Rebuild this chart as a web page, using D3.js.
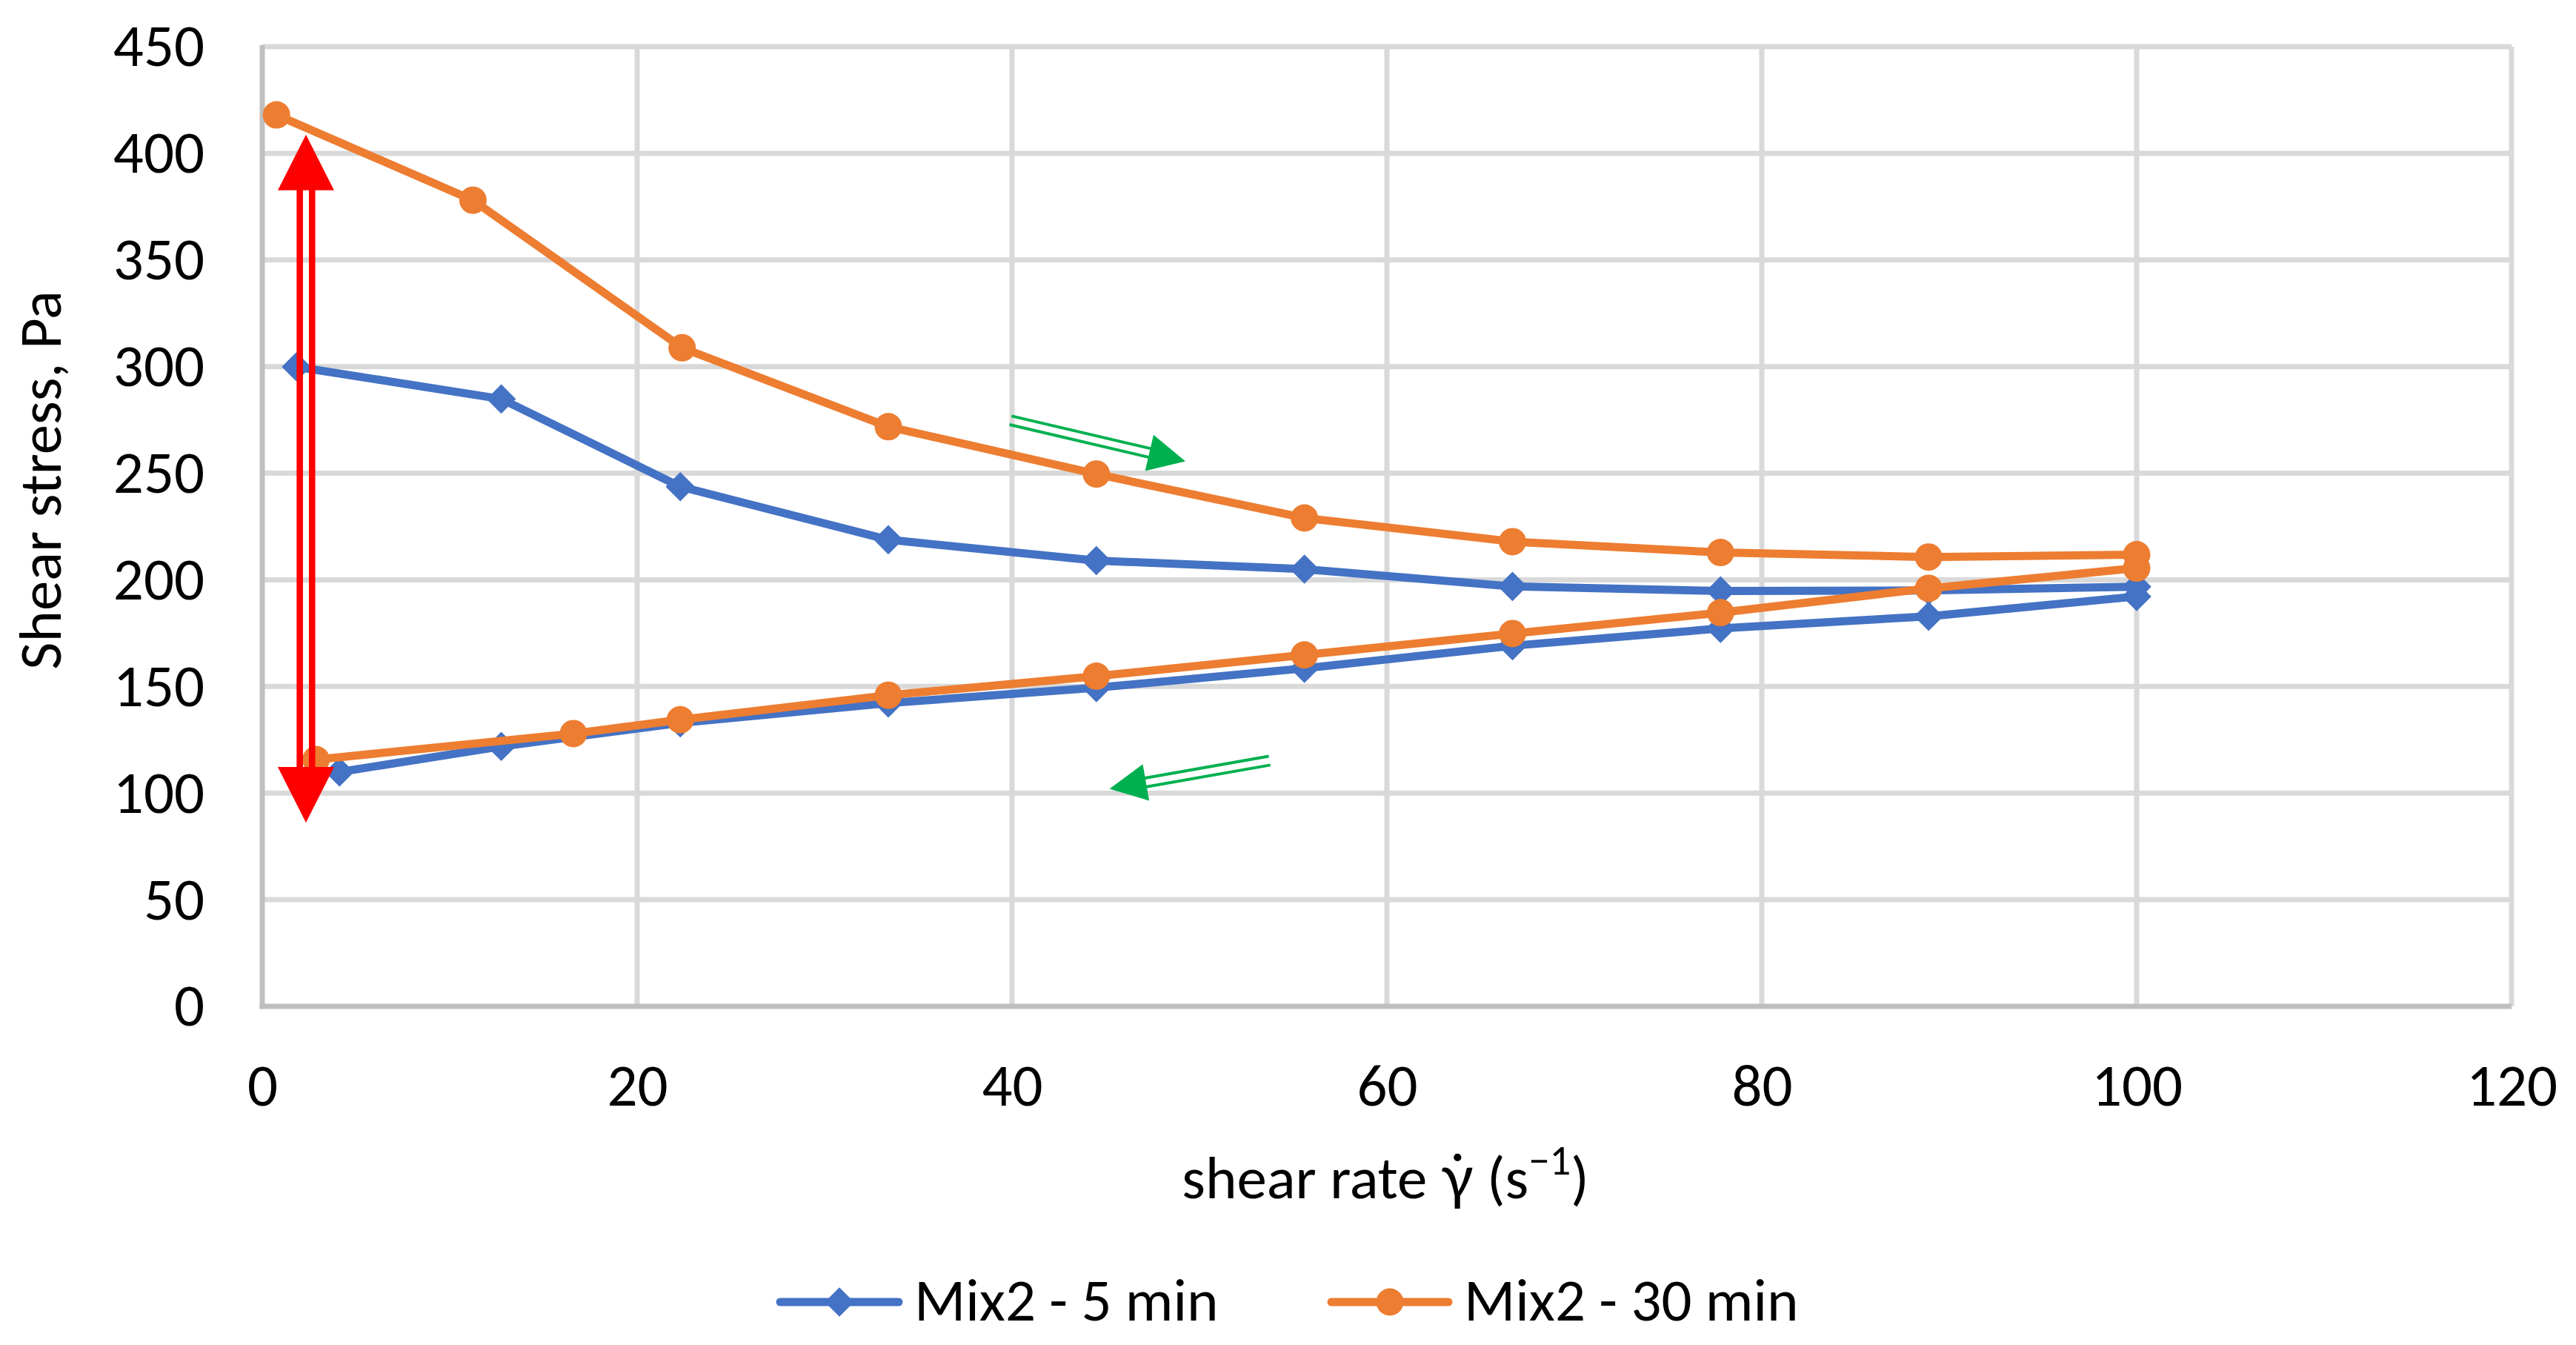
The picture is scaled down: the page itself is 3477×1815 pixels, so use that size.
<!DOCTYPE html>
<html>
<head>
<meta charset="utf-8">
<script src="https://cdn.jsdelivr.net/npm/d3@7"></script>
<style>
  html, body { margin: 0; padding: 0; background: #ffffff; }
  svg { display: block; }
  text { font-family: Carlito, Lato, "Noto Sans", sans-serif; fill: #000; }
</style>
</head>
<body>
<svg id="chart" width="3477" height="1815"></svg>
<script>
// ---------- data ----------
const seriesNames = ["Mix2 - 5 min", "Mix2 - 30 min"];
const shearRate5 = [1.82, 12.75, 22.3, 33.4, 44.5, 55.6, 66.7, 77.8, 88.9, 100,
                    100, 88.9, 77.8, 66.7, 55.6, 44.5, 33.4, 22.3, 12.75, 4.12];
const stress5    = [299.9, 284.8, 243.7, 218.8, 209.0, 205.0, 196.9, 194.8, 195.0, 196.8,
                    192.2, 182.9, 177.2, 169.1, 158.5, 149.4, 142.2, 132.9, 121.9, 109.9];
const shearRate30 = [0.76, 11.24, 22.4, 33.4, 44.5, 55.6, 66.7, 77.8, 88.9, 100,
                     100, 88.9, 77.8, 66.7, 55.6, 44.5, 33.4, 22.3, 16.6, 2.87];
const stress30    = [418.0, 378.0, 308.8, 271.8, 249.6, 229.0, 217.9, 212.8, 210.7, 211.8,
                     205.5, 196.0, 184.6, 174.8, 164.8, 154.8, 145.9, 134.4, 127.9, 115.7];
const xTicks = [0, 20, 40, 60, 80, 100, 120];
const yTicks = [0, 50, 100, 150, 200, 250, 300, 350, 400, 450];

// ---------- layout ----------
(function () {
const W = 3477, H = 1815;
const pL = 354, pR = 3390, pT = 63, pB = 1358;
const FS = 81;
const svg = d3.select("#chart");
svg.append("rect").attr("width", W).attr("height", H).attr("fill", "#fff");

const x = d3.scaleLinear().domain([0, 120]).range([pL, pR]);
const y = d3.scaleLinear().domain([0, 450]).range([pB, pT]);

// gridlines
const grid = svg.append("g");
grid.selectAll("line.h").data(yTicks.filter(d => d > 0)).join("line").attr("class", "h")
  .attr("x1", pL).attr("x2", pR)
  .attr("y1", d => y(d)).attr("y2", d => y(d))
  .attr("stroke", "#d9d9d9").attr("stroke-width", 7);
grid.selectAll("line.v").data(xTicks.filter(d => d > 0)).join("line").attr("class", "v")
  .attr("y1", pT).attr("y2", pB)
  .attr("x1", d => x(d)).attr("x2", d => x(d))
  .attr("stroke", "#d9d9d9").attr("stroke-width", 7);

// axes lines
svg.append("line").attr("x1", pL).attr("x2", pL).attr("y1", pT - 2).attr("y2", pB + 3.5)
  .attr("stroke", "#bfbfbf").attr("stroke-width", 7);
svg.append("line").attr("x1", pL - 3.5).attr("x2", pR).attr("y1", pB).attr("y2", pB)
  .attr("stroke", "#bfbfbf").attr("stroke-width", 7);

// tick labels via d3 axes (lines hidden)
const yAxis = svg.append("g").attr("transform", `translate(${pL},0)`)
  .call(d3.axisLeft(y).tickValues(yTicks).tickSize(0).tickPadding(78));
const xAxis = svg.append("g").attr("transform", `translate(0,${pB})`)
  .call(d3.axisBottom(x).tickValues(xTicks).tickSize(0).tickPadding(76));
[yAxis, xAxis].forEach(a => {
  a.select(".domain").remove();
  a.selectAll("text").attr("font-size", FS).attr("font-family", "Carlito, Lato, sans-serif").attr("fill", "#000");
});

// axis titles
svg.append("text")
  .attr("transform", `translate(82,648) rotate(-90)`)
  .attr("text-anchor", "middle").attr("font-size", FS)
  .text("Shear stress, Pa");
const xt = svg.append("text")
  .attr("x", 1870).attr("y", 1617).attr("text-anchor", "middle").attr("font-size", FS);
xt.append("tspan").text("shear rate \u03B3\u0307 (s");
xt.append("tspan").attr("dy", -32).attr("font-size", FS * 0.7).text("\u22121");
xt.append("tspan").attr("dy", 32).text(")");

// ---------- series ----------
const colors = ["#4472c4", "#ed7d31"];
const data5 = shearRate5.map((v, i) => [v, stress5[i]]);
const data30 = shearRate30.map((v, i) => [v, stress30[i]]);
const line = d3.line().x(d => x(d[0])).y(d => y(d[1]));
const diamond = d3.symbol().type(d3.symbolSquare).size(28 * 28);

function drawSeries(data, color, marker) {
  const g = svg.append("g");
  g.append("path").attr("d", line(data)).attr("fill", "none")
    .attr("stroke", color).attr("stroke-width", 11)
    .attr("stroke-linejoin", "round").attr("stroke-linecap", "round");
  if (marker === "diamond") {
    g.selectAll("path.m").data(data).join("path").attr("class", "m")
      .attr("d", diamond)
      .attr("transform", d => `translate(${x(d[0])},${y(d[1])}) rotate(45)`)
      .attr("fill", color);
  } else {
    g.selectAll("circle").data(data).join("circle")
      .attr("cx", d => x(d[0])).attr("cy", d => y(d[1])).attr("r", 18.5)
      .attr("fill", color);
  }
}
drawSeries(data5, colors[0], "diamond");
drawSeries(data30, colors[1], "circle");

// ---------- annotations (in data coordinates) ----------
function doubleArrow(g, from, to, opts) {
  const p0 = [x(from[0]), y(from[1])], p1 = [x(to[0]), y(to[1])];
  const dx = p1[0] - p0[0], dy = p1[1] - p0[1];
  const L = Math.hypot(dx, dy), ux = dx / L, uy = dy / L, nx = -uy, ny = ux;
  const bx = p1[0] - ux * opts.head, by = p1[1] - uy * opts.head;
  [-1, 1].forEach(s => {
    g.append("line")
      .attr("x1", p0[0] + nx * s * opts.gap).attr("y1", p0[1] + ny * s * opts.gap)
      .attr("x2", bx + nx * s * opts.gap + ux * 2).attr("y2", by + ny * s * opts.gap + uy * 2)
      .attr("stroke", opts.color).attr("stroke-width", opts.sw);
  });
  g.append("path")
    .attr("d", `M${p1[0]},${p1[1]}L${bx + nx * opts.hw},${by + ny * opts.hw}L${bx - nx * opts.hw},${by - ny * opts.hw}Z`)
    .attr("fill", opts.color);
}
const ann = svg.append("g");
// green direction arrows
doubleArrow(ann, [39.92, 274.8], [49.25, 255.6], {color: "#00b050", gap: 6, sw: 4, head: 50, hw: 25});
doubleArrow(ann, [53.74, 115.2], [45.2, 102.0], {color: "#00b050", gap: 6, sw: 4, head: 50, hw: 25});
// red double-headed arrow
const cx = x(2.33), yTop = y(408.7), yBot = y(86.2), head = 75, hw = 38;
[-8.3, 8.3].forEach(o => {
  ann.append("line").attr("x1", cx + o).attr("x2", cx + o)
    .attr("y1", yTop + head - 1).attr("y2", yBot - head + 1)
    .attr("stroke", "#ff0000").attr("stroke-width", 8.6);
});
ann.append("path").attr("d", `M${cx},${yTop}L${cx + hw},${yTop + head}L${cx - hw},${yTop + head}Z`).attr("fill", "#ff0000");
ann.append("path").attr("d", `M${cx},${yBot}L${cx + hw},${yBot - head}L${cx - hw},${yBot - head}Z`).attr("fill", "#ff0000");

// ---------- legend ----------
const legend = svg.append("g");
const legendItems = [
  {name: seriesNames[0], color: colors[0], marker: "diamond", x0: 1048, x1: 1218, tx: 1234},
  {name: seriesNames[1], color: colors[1], marker: "circle", x0: 1792, x1: 1960, tx: 1976}
];
const ly = 1757;
legendItems.forEach(it => {
  legend.append("line").attr("x1", it.x0 + 5).attr("x2", it.x1 - 5).attr("y1", ly).attr("y2", ly)
    .attr("stroke", it.color).attr("stroke-width", 11).attr("stroke-linecap", "round");
  const mx = (it.x0 + it.x1) / 2;
  if (it.marker === "diamond") {
    legend.append("path").attr("d", diamond).attr("transform", `translate(${mx},${ly}) rotate(45)`).attr("fill", it.color);
  } else {
    legend.append("circle").attr("cx", mx).attr("cy", ly).attr("r", 18.5).attr("fill", it.color);
  }
  legend.append("text").attr("x", it.tx).attr("y", 1782).attr("font-size", FS).text(it.name);
});
})();
</script>
</body>
</html>
